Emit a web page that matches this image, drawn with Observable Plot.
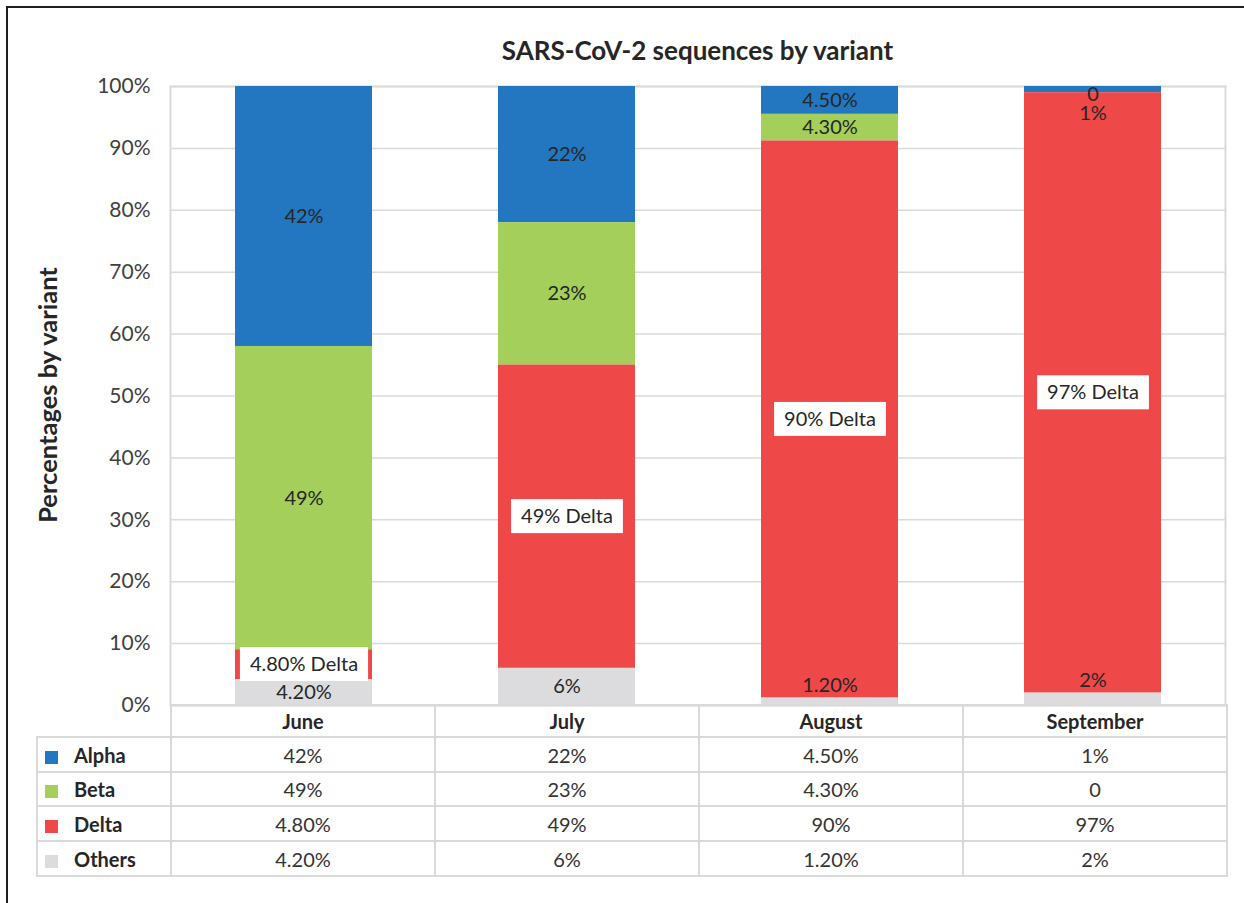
<!DOCTYPE html>
<html><head><meta charset="utf-8">
<script src="https://cdn.jsdelivr.net/npm/d3@7"></script>
<script src="https://cdn.jsdelivr.net/npm/@observablehq/plot@0.6"></script>
<style>
body{margin:0;background:#fff;font-family:Lato,"Noto Sans",sans-serif;}
#wrap{position:relative;width:1244px;height:903px;overflow:hidden;background:#fff;}
#frame{position:absolute;left:6px;top:6px;width:1400px;height:1100px;border:2px solid #1e1e1e;}
#title{position:absolute;left:170px;width:1055px;top:34px;text-align:center;font-weight:bold;font-size:26px;color:#262626;line-height:32px;}
#ylabel{position:absolute;left:47px;top:395px;transform:translate(-50%,-50%) rotate(-90deg);white-space:nowrap;font-weight:bold;font-size:25.5px;color:#262626;}
#chart{position:absolute;left:0;top:0;}
#tbl{position:absolute;left:36px;top:704px;border-collapse:collapse;table-layout:fixed;font-size:20px;color:#333;width:1190px;}
#tbl td{border:2px solid #d9d9d9;text-align:center;padding:0;}
#tbl tr.head td{font-weight:bold;color:#262626;}
#tbl tr.head td.blank{border-top:none;border-left:none;}
#tbl td.leg{text-align:left;padding-left:7px;font-weight:bold;color:#262626;}
#tbl .sw{display:inline-block;width:13px;height:13px;margin-right:16px;vertical-align:-1px;}
</style>
</head><body>
<div id="wrap">
  <div id="frame"></div>
  <div id="chart"></div>
  <div id="title">SARS-CoV-2 sequences by variant</div>
  <div id="ylabel">Percentages by variant</div>
  <table id="tbl"></table>
</div>
<script>
// ---- data ----
const months = ["June", "July", "August", "September"];
const variants = ["Alpha", "Beta", "Delta", "Others"];
const alpha = [42, 22, 4.5, 1];
const beta = [49, 23, 4.3, 0];
const delta = [4.8, 49, 90, 97];
const others = [4.2, 6, 1.2, 2];
const yTicks = [0, 10, 20, 30, 40, 50, 60, 70, 80, 90, 100];

// ---- styles ----
const colors = ["#2377c0", "#a4cf5a", "#ef4848", "#dcdcde"];
const stackOrder = ["Others", "Delta", "Beta", "Alpha"];
const labelNudge = {"August|Others": -16, "September|Others": -19, "September|Alpha": 24, "September|Beta": 2};

const series = {Alpha: alpha, Beta: beta, Delta: delta, Others: others};
const data = variants.flatMap(v => months.map((m, i) => ({month: m, variant: v, value: series[v][i]})));
const fmt = v => v === 0 ? "0" : Number.isInteger(v) ? v + "%" : v.toFixed(2) + "%";
const key = d => d.month + "|" + d.variant;

const stackText = (textFn, extra = {}) => Plot.text(data, Plot.stackY({
  x: "month", y: "value", z: "variant", order: stackOrder,
  text: textFn, fill: "#262626", fontSize: 20, ...extra
}));

const nudgedMarks = Object.entries(labelNudge).map(([k, dy]) =>
  stackText(d => key(d) === k ? fmt(d.value) : "", {dy}));

const plot = Plot.plot({
  width: 1244, height: 706,
  marginLeft: 170, marginRight: 19, marginTop: 86, marginBottom: 1,
  style: {fontFamily: "Lato, 'Noto Sans', sans-serif", fontSize: "20px", color: "#404040", background: "transparent", overflow: "visible"},
  x: {domain: months, paddingInner: 0.48, paddingOuter: 0.24, axis: null},
  y: {domain: [0, 100], axis: null},
  color: {domain: variants, range: colors},
  marks: [
    Plot.gridY(yTicks, {stroke: "#d9d9d9", strokeOpacity: 1, strokeWidth: 1.5}),
    Plot.frame({stroke: "#d9d9d9", strokeWidth: 2}),
    Plot.barY(data, Plot.stackY({x: "month", y: "value", fill: "variant", order: stackOrder})),
    Plot.axisY(yTicks, {tickSize: 0, tickPadding: 20, tickFormat: d => d + "%", fontSize: 21, label: null}),
    stackText(d => (d.variant === "Delta" || labelNudge[key(d)] !== undefined) ? "" : fmt(d.value)),
    ...nudgedMarks,
    stackText(d => d.variant === "Delta" ? fmt(d.value) + " Delta" : "", {className: "delta-lbl"})
  ]
});
document.getElementById("chart").appendChild(plot);

// white boxes behind Delta labels
const ns = "http://www.w3.org/2000/svg";
plot.querySelectorAll(".delta-lbl text").forEach(t => {
  const b = t.getBBox();
  if (!b.width) return;
  const r = document.createElementNS(ns, "rect");
  r.setAttribute("x", b.x - 10);
  r.setAttribute("width", b.width + 20);
  r.setAttribute("y", b.y + b.height / 2 - 16);
  r.setAttribute("height", 34);
  r.setAttribute("fill", "#fff");
  const tr = t.getAttribute("transform");
  if (tr) r.setAttribute("transform", tr);
  t.parentNode.insertBefore(r, t);
});

// data table
const tbl = d3.select("#tbl");
const cg = tbl.append("colgroup");
cg.append("col").style("width", "134px");
months.forEach(() => cg.append("col").style("width", "264px"));
const head = tbl.append("tr").attr("class", "head").style("height", "32px");
head.append("td").attr("class", "blank");
months.forEach(m => head.append("td").text(m));
const rowH = [35, 34, 35, 35];
variants.forEach((v, vi) => {
  const tr = tbl.append("tr").style("height", rowH[vi] + "px");
  const lc = tr.append("td").attr("class", "leg");
  lc.append("span").attr("class", "sw").style("background", colors[vi]);
  lc.append("span").text(v);
  series[v].forEach(val => tr.append("td").text(fmt(val)));
});
</script>
</body></html>
